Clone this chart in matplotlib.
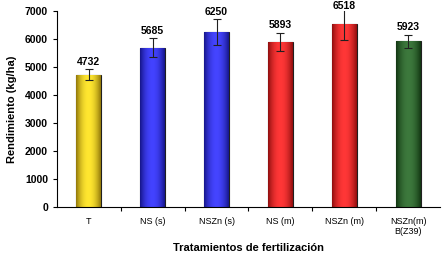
import matplotlib.pyplot as plt
import matplotlib.colors as mcolors
import numpy as np

categorias = ['T', 'NS (s)', 'NSZn (s)', 'NS (m)', 'NSZn (m)', 'NSZn(m)\nB(Z39)']
rendimiento = [4732, 5685, 6250, 5893, 6518, 5923]
error = [180, 340, 460, 330, 560, 230]
colores = ['#F2C811', '#2424E6', '#2626E8', '#F01818', '#F01818', '#1E5A1E']

plt.rcParams['font.family'] = ['Liberation Sans', 'DejaVu Sans']

fig = plt.figure(figsize=(4.45, 2.56), dpi=100)
ax = fig.add_axes([57/445, 1 - 207/256, 383/445, 196/256])

x = np.arange(len(categorias))
bars = ax.bar(x, rendimiento, width=0.39, color=colores, edgecolor='#202020', linewidth=0.8, zorder=2)

# shading across each bar: dark edges, light middle
prof = np.linspace(-1, 1, 64)
shade = 1 - np.abs(prof) ** 2
for b, c in zip(bars, colores):
    rgb = np.array(mcolors.to_rgb(c))
    dark = rgb * 0.6
    light = np.minimum(rgb + 0.12, 1)
    img = dark[None, :] + (light - dark)[None, :] * shade[:, None]
    img = img[None, :, :]
    x0, w, h = b.get_x(), b.get_width(), b.get_height()
    im = ax.imshow(img, extent=[x0, x0 + w, 0, h], aspect='auto', zorder=2.5)
    im.set_clip_path(b)

ax.errorbar(x, rendimiento, yerr=error, fmt='none', ecolor='#202020', elinewidth=0.8,
            capsize=3, capthick=0.8, zorder=4)

for xi, v, e in zip(x, rendimiento, error):
    ax.text(xi, min(v + e + 90, 7000), str(v), ha='center', va='bottom', fontsize=7.5,
            fontweight='bold', clip_on=False, zorder=5)

ax.set_xlim(-0.5, len(categorias) - 0.5)
ax.set_ylim(0, 7000)
ax.set_yticks(range(0, 7001, 1000))
ax.set_xticks(x)
ax.set_xticklabels(categorias, fontsize=6.5)
ax.tick_params(axis='y', labelsize=7.5, length=3, width=0.8)
ax.tick_params(axis='x', length=0, pad=7)
for lbl in ax.get_yticklabels():
    lbl.set_fontweight('bold')
ax.set_xticks(np.arange(0.5, len(categorias) - 0.5, 1), minor=True)
ax.tick_params(axis='x', which='minor', length=3, width=0.8, direction='out')

ax.spines['top'].set_visible(False)
ax.spines['right'].set_visible(False)
ax.set_ylabel('Rendimiento (kg/ha)', fontsize=8, fontweight='bold', labelpad=6)
ax.set_xlabel('Tratamientos de fertilización', fontsize=8, fontweight='bold', labelpad=5)

fig.savefig('out.png', dpi=100)
